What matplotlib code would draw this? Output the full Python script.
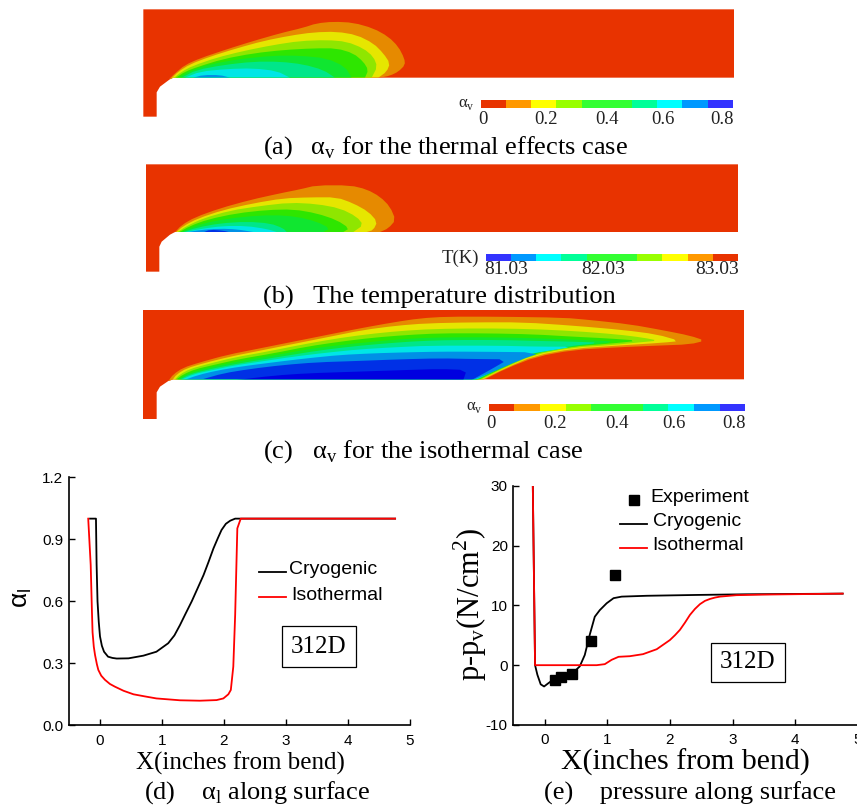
import numpy as np
import matplotlib
matplotlib.use('Agg')
import matplotlib.pyplot as plt
from matplotlib.colors import ListedColormap
from matplotlib.lines import Line2D
from matplotlib.patches import Polygon, Rectangle

W, H = 857, 808
SERIF = 'Liberation Serif'
SANS = 'Liberation Sans'

# contour band colours, outside (liquid) to inside (vapour)
band_colors = ['#E68A00', '#E6E600', '#8FE600', '#2EE600', '#10E630', '#00E68A',
               '#00E6E6', '#0090E6', '#0030E6', '#0000E0']
bg_red = '#E83300'
cbar_colors = ['#E83300', '#FF9900', '#FFFF00', '#99FF00', '#33FF33', '#33FF33',
               '#00FF99', '#00FFFF', '#0099FF', '#3333FF']

# domain outlines and bands, in sketch units (3 units per pixel)
dom_a = [(10, 13), (1782, 13), (1782, 218), (100, 218), (88, 224), (60, 245), (50, 262), (50, 335), (10, 335)]
bands_a = [
    [(88, 222), (105, 205), (135, 180), (180, 160), (260, 133), (340, 108), (420, 85), (490, 68),
     (530, 55), (580, 50), (640, 53), (700, 70), (745, 95), (775, 125), (793, 160), (795, 180),
     (775, 200), (750, 212), (720, 218)],
    [(95, 220), (115, 200), (150, 178), (210, 155), (290, 130), (370, 108), (450, 92), (520, 82),
     (590, 80), (650, 90), (700, 115), (730, 145), (750, 175), (740, 200), (715, 218)],
    [(100, 220), (125, 200), (160, 182), (230, 158), (310, 138), (400, 120), (480, 108), (560, 105),
     (620, 110), (670, 130), (700, 155), (712, 185), (695, 218)],
    [(105, 220), (135, 200), (175, 185), (250, 162), (340, 145), (430, 135), (520, 130), (590, 130),
     (640, 145), (670, 170), (685, 195), (675, 218)],
    [(115, 218), (150, 198), (210, 178), (300, 162), (400, 152), (480, 152), (560, 160), (615, 185),
     (635, 218)],
    [(125, 218), (170, 195), (250, 180), (340, 170), (420, 170), (490, 178), (550, 195), (585, 218)],
    [(135, 218), (180, 200), (260, 192), (340, 190), (410, 198), (450, 218)],
    [(160, 218), (190, 210), (240, 210), (270, 218)],
]
dom_b = [(18, 13), (1794, 13), (1794, 216), (105, 216), (90, 224), (65, 245), (58, 260), (58, 335), (18, 335)]
bands_b = [
    [(100, 222), (125, 195), (165, 172), (240, 145), (330, 120), (420, 100), (480, 88), (530, 76),
     (630, 76), (680, 88), (720, 110), (750, 140), (767, 180), (745, 205), (720, 216)],
    [(105, 220), (130, 198), (175, 175), (250, 150), (340, 130), (430, 115), (510, 112), (590, 112),
     (640, 130), (685, 155), (712, 185), (700, 210), (680, 216)],
    [(110, 218), (140, 198), (190, 175), (270, 152), (360, 138), (450, 128), (530, 132), (600, 145),
     (650, 170), (670, 195), (640, 216)],
    [(115, 218), (150, 198), (205, 178), (290, 160), (380, 150), (460, 148), (530, 160), (590, 180),
     (628, 205), (610, 216)],
    [(120, 218), (160, 200), (220, 183), (310, 170), (400, 165), (470, 170), (530, 185), (570, 205),
     (550, 216)],
    [(125, 218), (170, 203), (240, 190), (320, 185), (390, 190), (430, 205), (440, 216)],
    [(130, 218), (180, 207), (250, 198), (320, 198), (380, 207), (410, 216)],
    [(135, 218), (180, 210), (240, 206), (290, 208), (340, 216)],
    [(190, 217), (210, 209), (250, 212), (270, 217)],
]
dom_c = [(8, 15), (1812, 15), (1812, 223), (100, 223), (85, 228), (60, 245), (50, 262), (50, 343), (8, 343)]
bands_c = [
    [(85, 228), (100, 208), (130, 188), (180, 172), (260, 150), (360, 130), (460, 110), (560, 90),
     (660, 70), (760, 52), (840, 40), (920, 35), (1070, 35), (1270, 38), (1350, 45), (1470, 58),
     (1570, 76), (1650, 92), (1695, 107), (1650, 118), (1550, 122), (1430, 127), (1300, 135),
     (1190, 155), (1100, 190), (1030, 225)],
    [(95, 228), (110, 208), (140, 190), (190, 175), (270, 155), (370, 135), (470, 115), (570, 95),
     (670, 75), (770, 62), (860, 55), (1000, 52), (1150, 52), (1300, 62), (1450, 75), (1550, 88),
     (1620, 108), (1570, 113), (1430, 122), (1300, 131), (1185, 152), (1095, 190), (1025, 225)],
    [(100, 228), (120, 208), (150, 192), (200, 178), (280, 158), (380, 140), (480, 120), (580, 102),
     (680, 88), (780, 78), (880, 72), (1020, 70), (1170, 72), (1300, 78), (1430, 88), (1510, 98),
     (1555, 107), (1500, 112), (1420, 120), (1295, 128), (1180, 150), (1090, 190), (1020, 225)],
    [(105, 226), (130, 208), (165, 193), (220, 180), (300, 162), (400, 145), (500, 125), (600, 110),
     (700, 98), (800, 90), (900, 85), (1040, 85), (1180, 88), (1300, 95), (1400, 100), (1500, 107),
     (1410, 116), (1290, 125), (1175, 148), (1085, 190), (1015, 225)],
    [(110, 226), (140, 208), (180, 195), (240, 180), (320, 165), (420, 148), (520, 130), (620, 118),
     (720, 108), (820, 100), (920, 97), (1060, 97), (1200, 100), (1330, 105), (1440, 110),
     (1300, 124), (1170, 147), (1080, 190), (1010, 225)],
    [(115, 226), (150, 208), (195, 196), (260, 182), (340, 168), (440, 152), (540, 136), (640, 124),
     (740, 115), (840, 108), (940, 105), (1080, 105), (1200, 108), (1300, 110), (1385, 113),
     (1290, 123), (1170, 145), (1078, 190), (1008, 225)],
    [(120, 226), (160, 208), (210, 197), (280, 182), (360, 170), (460, 155), (560, 143), (660, 133),
     (760, 127), (870, 122), (1070, 122), (1200, 125), (1300, 125), (1240, 135), (1160, 148),
     (1075, 190), (1005, 225)],
    [(130, 226), (175, 210), (230, 197), (300, 185), (400, 172), (500, 160), (600, 150), (700, 145),
     (800, 142), (900, 140), (1000, 140), (1205, 142), (1140, 165), (1060, 200), (1000, 225)],
    [(190, 222), (250, 205), (330, 192), (430, 180), (530, 172), (650, 168), (780, 163), (900, 160),
     (1000, 162), (1105, 163), (1050, 195), (995, 225)],
    [(290, 225), (400, 212), (500, 205), (650, 200), (800, 195), (900, 192), (980, 195), (970, 225)],
]

# colourbar tick labels, in cell units
cbar_ticks = [0.08, 2.6, 5.0, 7.22, 9.56]
cbar_labels = ['0', '0.2', '0.4', '0.6', '0.8']
temp_ticks = [0.80, 4.67, 9.18]
temp_labels = ['81.03', '82.03', '83.03']

# (d) liquid fraction along surface
d_cryo_x = [-0.16, -0.065, -0.055, -0.04, -0.02, 0.0, 0.03, 0.065, 0.13, 0.2, 0.27, 0.46, 0.70, 0.91,
            1.10, 1.2, 1.29, 1.38, 1.48, 1.57, 1.67, 1.75, 1.83, 1.90, 1.96, 2.03, 2.10, 2.18, 4.76]
d_cryo_y = [1.0, 1.0, 0.78, 0.6, 0.5, 0.43, 0.385, 0.356, 0.332, 0.326, 0.323, 0.324, 0.337, 0.356,
            0.397, 0.435, 0.485, 0.54, 0.60, 0.66, 0.727, 0.79, 0.856, 0.905, 0.945, 0.975, 0.99, 1.0, 1.0]
d_iso_x = [-0.19, -0.15, -0.13, -0.12, -0.1, -0.08, -0.05, -0.027, 0.02, 0.08, 0.16, 0.24, 0.38, 0.54,
           0.72, 0.91, 1.29, 1.61, 1.88, 1.99, 2.07, 2.11, 2.15, 2.18, 2.215, 2.27, 4.76]
d_iso_y = [1.0, 0.776, 0.55, 0.45, 0.38, 0.34, 0.295, 0.268, 0.24, 0.22, 0.2, 0.187, 0.167, 0.15,
           0.14, 0.13, 0.121, 0.119, 0.122, 0.13, 0.15, 0.171, 0.284, 0.534, 0.953, 1.0, 1.0]

# (e) pressure along surface
e_cryo_x = [-0.19, -0.154, -0.117, -0.064, -0.01, 0.06, 0.165, 0.30, 0.46, 0.56, 0.64, 0.72, 0.80, 0.88,
            0.99, 1.10, 1.23, 1.63, 2.43, 3.22, 4.76]
e_cryo_y = [30, 0, -1.6, -3.2, -3.56, -3.0, -2.2, -1.7, -1.2, -0.2, 1.7, 5.1, 8.1, 9.2,
            10.35, 11.2, 11.46, 11.6, 11.74, 11.85, 11.96]
e_iso_x = [-0.19, -0.154, 0.83, 0.96, 1.07, 1.18, 1.36, 1.57, 1.79, 2.0, 2.08, 2.16, 2.24, 2.32, 2.4,
           2.48, 2.56, 2.64, 2.72, 2.8, 3.06, 3.49, 4.76]
e_iso_y = [30, 0, 0, 0.17, 0.9, 1.4, 1.5, 1.84, 2.67, 4.2, 5.0, 5.9, 7.1, 8.4, 9.4,
           10.2, 10.75, 11.07, 11.3, 11.46, 11.7, 11.8, 11.96]
exp_x = [0.17, 0.26, 0.43, 0.74, 1.13]
exp_y = [-2.45, -2.0, -1.45, 4.0, 15.0]

plt.rcParams['font.family'] = SANS
plt.rcParams['axes.unicode_minus'] = False
fig = plt.figure(figsize=(W / 100, H / 100), dpi=100)


def px_axes(left, top, right, bottom):
    return fig.add_axes([left / W, 1 - bottom / H, (right - left) / W, (bottom - top) / H])


def px_text(x, y, s, size, family=SERIF, ha='left', **kw):
    return fig.text(x / W, 1 - y / H, s, fontsize=size, family=family, ha=ha, va='center', **kw)


def round_off(pts):
    # one pass of corner cutting so the outlines do not look faceted
    pts = np.array(pts, dtype=float)
    a, b = pts[:-1], pts[1:]
    cut = np.empty((2 * len(a), 2))
    cut[0::2] = 0.75 * a + 0.25 * b
    cut[1::2] = 0.25 * a + 0.75 * b
    return np.vstack([pts[:1], cut, pts[-1:]])


def contour_panel(dom, bands, colors, off_x, off_y):
    xs = [p[0] for p in dom]
    ys = [p[1] for p in dom]
    ax = px_axes(off_x + min(xs) / 3, off_y + min(ys) / 3, off_x + max(xs) / 3, off_y + max(ys) / 3)
    ax.set_xlim(min(xs), max(xs))
    ax.set_ylim(max(ys), min(ys))
    ax.axis('off')
    outline = Polygon(dom, closed=True, color=bg_red, lw=0)
    ax.add_patch(outline)
    for band, c in zip(bands, colors):
        pts = round_off(band)
        for poly in ax.fill(pts[:, 0], pts[:, 1], color=c, lw=0):
            poly.set_clip_path(outline)


def colorbar(box, colors, ticks, labels, size, label_y):
    ax = px_axes(*box)
    ax.pcolormesh(np.arange(len(colors) + 1), [0, 1], [np.arange(len(colors))],
                  cmap=ListedColormap(colors))
    ax.axis('off')
    for t, lb in zip(ticks, labels):
        x = box[0] + t * (box[2] - box[0]) / len(colors)
        px_text(x, label_y, lb, size, ha='center', color='#222222')


contour_panel(dom_a, bands_a, band_colors, 140, 5)
contour_panel(dom_b, bands_b, band_colors, 140, 160)
contour_panel(dom_c, bands_c, band_colors, 140, 305)

colorbar((480.7, 100.3, 732.7, 107.7), cbar_colors, cbar_ticks, cbar_labels, 13.5, 120)
colorbar((485.7, 253.7, 738, 261), cbar_colors[::-1], temp_ticks, temp_labels, 14, 269)
colorbar((488.5, 404, 745.4, 411.3), cbar_colors, cbar_ticks, cbar_labels, 13.5, 424)

px_text(458, 103.5, 'α$_{\\mathregular{v}}$', 12, color='#222222')
px_text(442, 258, 'T(K)', 13.5, color='#222222')
px_text(466, 407, 'α$_{\\mathregular{v}}$', 12, color='#222222')

cap = 19
px_text(263, 148, '(a)  \u2009α$_{\\mathregular{v}}$ for the thermal effects case', cap)
px_text(263, 297, '(b)   The temperature distribution', cap)
px_text(263, 452, '(c)   α$_{\\mathregular{v}}$ for the isothermal case', cap)
px_text(144, 793, '(d)    α$_{\\mathregular{l}}$ along surface', cap)
px_text(544, 793, '(e)    pressure along surface', cap)


def style_axes(ax):
    for s in ('top', 'right'):
        ax.spines[s].set_visible(False)
    for s in ('left', 'bottom'):
        ax.spines[s].set_linewidth(1.2)
    ax.tick_params(direction='in', length=4.5, width=1, labelsize=11)
    ax.tick_params(axis='x', pad=6)
    ax.tick_params(axis='y', pad=4)
    ax.patch.set_alpha(0)


ax_d = px_axes(69, 477.3, 410, 725.3)
ax_d.plot(d_cryo_x, d_cryo_y, color='black', lw=1.3)
ax_d.plot(d_iso_x, d_iso_y, color='red', lw=1.3)
ax_d.set_xlim(-0.5, 5)
ax_d.set_ylim(0, 1.2)
ax_d.set_xticks(range(6))
ax_d.set_yticks([0, 0.3, 0.6, 0.9, 1.2])
ax_d.set_yticklabels(['0.0', '0.3', '0.6', '0.9', '1.2'])
style_axes(ax_d)

ax_e = px_axes(513.4, 485.7, 857.7, 725)
ax_e.plot(e_cryo_x, e_cryo_y, color='black', lw=1.3)
ax_e.plot(e_iso_x, e_iso_y, color='red', lw=1.3)
ax_e.plot(exp_x, exp_y, 's', color='black', ms=7.5, clip_on=False)
ax_e.set_xlim(-0.5, 5)
ax_e.set_ylim(-10, 30)
ax_e.set_xticks(range(6))
ax_e.set_yticks([-10, 0, 10, 20, 30])
style_axes(ax_e)

px_text(240.5, 763, 'X(inches from bend)', 18, ha='center')
px_text(685, 762, 'X(inches from bend)', 21.5, ha='center')
fig.text(22 / W, 1 - 598 / H, 'α$_{\\mathregular{l}}$', fontsize=19, family=SANS, rotation=90,
         ha='center', va='center')
fig.text(470 / W, 1 - 605 / H, 'p-p$_{\\mathregular{v}}$(N/cm$^{\\mathregular{2}}$)', fontsize=22,
         family=SERIF, rotation=90, ha='center', va='center')


def key_line(x0, x1, y, color):
    fig.add_artist(Line2D([x0 / W, x1 / W], [1 - y / H, 1 - y / H], color=color, lw=1.3))


def tag_box(left, top, right, bottom):
    fig.add_artist(Rectangle((left / W, 1 - bottom / H), (right - left) / W, (bottom - top) / H,
                             fill=False, edgecolor='black', lw=0.9, transform=fig.transFigure))
    px_text((left + right) / 2, (top + bottom) / 2, '312D', 18, ha='center')


key_line(258.7, 285.7, 572, 'black')
key_line(258.7, 285.7, 597, 'red')
px_text(288.7, 570, 'Cryogenic', 14, family=SANS)
px_text(291.7, 595, 'Isothermal', 14, family=SANS)
tag_box(281.7, 626.3, 355.7, 667.3)

fig.add_artist(Line2D([633.7 / W], [1 - 499.7 / H], marker='s', color='black', ms=7.5, ls='none'))
px_text(650.7, 497, 'Experiment', 14, family=SANS)
key_line(620, 647.3, 524, 'black')
key_line(620, 647.3, 547.7, 'red')
px_text(652.7, 521.7, 'Cryogenic', 14, family=SANS)
px_text(652.7, 545.3, 'Isothermal', 14, family=SANS)
tag_box(710.7, 642.7, 785.3, 682.3)

fig.savefig('out.png', dpi=100)
